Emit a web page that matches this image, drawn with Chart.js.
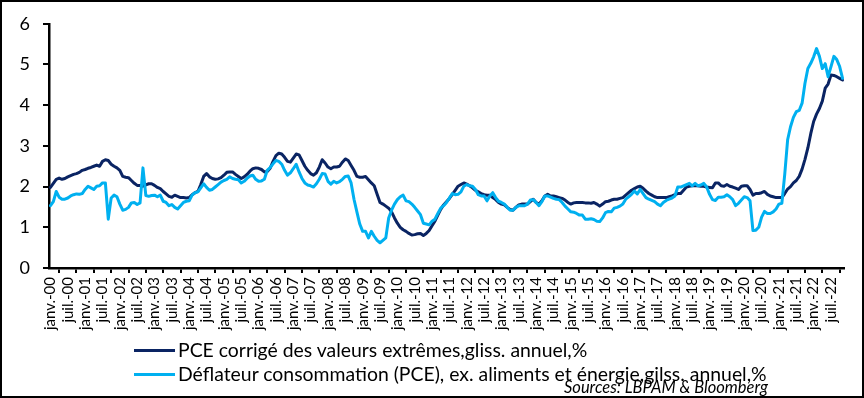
<!DOCTYPE html>
<html><head><meta charset="utf-8">
<script src="https://cdn.jsdelivr.net/npm/chart.js@4/dist/chart.umd.min.js"></script>
<style>
html,body{margin:0;padding:0;background:#fff;}
#wrap{position:relative;width:864px;height:398px;overflow:hidden;font-family:Lato,"Open Sans",sans-serif;background:#fff;}
#c{position:absolute;left:0;top:0;}
#frame{position:absolute;left:0;top:0;width:864px;height:398px;box-sizing:border-box;border:2px solid #000;pointer-events:none;}
.leg{position:absolute;left:134px;height:22px;font-size:19.4px;line-height:22px;color:#000;white-space:nowrap;display:flex;align-items:center;}
.leg .ln{display:inline-block;width:41px;height:3px;margin-right:3px;}
#src{position:absolute;right:96px;top:377px;font-size:16.5px;font-style:italic;color:#000;white-space:nowrap;}
</style></head>
<body>
<div id="wrap">
<canvas id="c" width="864" height="398"></canvas>
<div class="leg" id="leg1" style="top:339px"><span class="ln" style="background:#0a2463"></span><span>PCE corrigé des valeurs extrêmes,gliss. annuel,%</span></div>
<div class="leg" id="leg2" style="top:363px"><span class="ln" style="background:#00b0f0"></span><span>Déflateur consommation (PCE), ex. aliments et énergie,gilss. annuel,%</span></div>
<div id="src">Sources: LBPAM &amp; Bloomberg</div>
<div id="frame"></div>
</div>
<script>
// Monthly data, Jan 2000 .. Nov 2022
const startYear = 2000;
const monthAbbr = ['janv.','févr.','mars','avr.','mai','juin','juil.','août','sept.','oct.','nov.','déc.'];

const trimmedMeanPCE = [
 1.98,2.08,2.18,2.21,2.18,2.20,2.24,2.27,2.30,2.32,2.35,2.40,
 2.42,2.45,2.47,2.50,2.53,2.50,2.62,2.66,2.64,2.55,2.50,2.46,
 2.40,2.25,2.23,2.22,2.15,2.08,2.03,2.03,2.01,2.04,2.07,2.07,
 2.03,1.98,1.95,1.88,1.82,1.76,1.74,1.79,1.76,1.73,1.73,1.72,
 1.73,1.80,1.85,1.88,2.05,2.25,2.32,2.24,2.20,2.18,2.19,2.22,
 2.28,2.35,2.36,2.36,2.30,2.25,2.20,2.24,2.30,2.38,2.44,2.46,
 2.45,2.42,2.36,2.37,2.45,2.62,2.76,2.82,2.80,2.72,2.62,2.60,
 2.70,2.80,2.78,2.64,2.50,2.40,2.32,2.28,2.34,2.48,2.66,2.58,
 2.48,2.44,2.48,2.48,2.50,2.60,2.68,2.64,2.52,2.40,2.25,2.23,
 2.23,2.25,2.17,2.09,2.02,1.81,1.61,1.57,1.52,1.47,1.38,1.23,
 1.10,1.00,0.94,0.90,0.85,0.81,0.82,0.84,0.85,0.80,0.85,0.92,
 1.04,1.15,1.30,1.44,1.55,1.63,1.71,1.81,1.91,2.01,2.05,2.09,
 2.06,2.02,1.97,1.91,1.87,1.83,1.80,1.79,1.79,1.73,1.68,1.61,
 1.57,1.55,1.49,1.44,1.42,1.49,1.55,1.57,1.57,1.57,1.63,1.69,
 1.61,1.57,1.65,1.77,1.81,1.77,1.77,1.75,1.73,1.71,1.67,1.61,
 1.57,1.60,1.61,1.61,1.61,1.60,1.60,1.59,1.61,1.57,1.52,1.57,
 1.63,1.64,1.67,1.69,1.69,1.71,1.73,1.79,1.85,1.91,1.95,1.99,
 2.01,1.96,1.89,1.83,1.79,1.75,1.73,1.73,1.73,1.73,1.75,1.77,
 1.80,1.83,1.83,1.91,1.99,2.01,2.02,2.02,2.02,2.01,2.01,1.99,
 1.98,1.97,2.09,2.09,2.02,2.01,2.05,2.01,1.99,1.96,1.93,2.01,
 2.02,2.02,1.93,1.79,1.83,1.83,1.85,1.88,1.81,1.77,1.75,1.73,
 1.73,1.73,1.83,1.94,2.00,2.09,2.15,2.25,2.43,2.67,2.95,3.30,
 3.60,3.78,3.92,4.10,4.42,4.52,4.74,4.73,4.70,4.66,4.62
];

const corePCE = [
 1.53,1.63,1.88,1.74,1.69,1.69,1.72,1.77,1.80,1.82,1.81,1.83,
 1.93,2.01,1.97,1.93,2.01,2.02,2.09,2.09,1.20,1.72,1.79,1.75,
 1.57,1.42,1.44,1.49,1.60,1.61,1.56,1.60,2.46,1.78,1.76,1.78,
 1.79,1.75,1.79,1.64,1.61,1.53,1.56,1.49,1.45,1.53,1.61,1.64,
 1.65,1.79,1.85,1.87,1.97,2.07,1.98,1.91,1.93,1.99,2.05,2.11,
 2.15,2.18,2.24,2.20,2.18,2.17,2.09,2.13,2.20,2.26,2.28,2.18,
 2.13,2.14,2.18,2.40,2.47,2.56,2.64,2.62,2.55,2.40,2.28,2.34,
 2.44,2.55,2.36,2.20,2.09,2.04,2.02,1.99,2.07,2.18,2.32,2.31,
 2.13,2.06,2.13,2.09,2.12,2.18,2.25,2.26,2.09,1.69,1.38,1.08,
 0.90,0.90,0.74,0.90,0.78,0.68,0.62,0.68,0.74,1.23,1.42,1.57,
 1.68,1.75,1.79,1.65,1.63,1.57,1.49,1.40,1.31,1.10,1.08,1.06,
 1.15,1.20,1.34,1.47,1.53,1.61,1.72,1.83,1.80,1.81,1.87,2.01,
 2.05,2.02,2.01,1.93,1.80,1.77,1.77,1.65,1.77,1.85,1.73,1.64,
 1.61,1.57,1.49,1.42,1.42,1.49,1.53,1.53,1.53,1.57,1.67,1.68,
 1.61,1.53,1.63,1.77,1.77,1.74,1.71,1.69,1.68,1.61,1.52,1.45,
 1.38,1.37,1.34,1.30,1.30,1.20,1.20,1.21,1.19,1.15,1.14,1.23,
 1.36,1.39,1.38,1.47,1.49,1.52,1.57,1.69,1.75,1.81,1.89,1.82,
 1.93,1.83,1.73,1.69,1.66,1.63,1.57,1.53,1.61,1.66,1.69,1.72,
 1.77,1.99,1.99,2.02,2.05,2.08,2.02,2.08,2.02,2.04,2.08,1.99,
 1.81,1.68,1.66,1.74,1.74,1.75,1.80,1.75,1.68,1.53,1.59,1.67,
 1.75,1.73,1.65,0.92,0.93,1.00,1.25,1.39,1.34,1.34,1.38,1.45,
 1.57,1.59,2.30,3.15,3.47,3.70,3.84,3.87,4.05,4.54,4.90,5.03,
 5.19,5.39,5.20,4.90,5.02,4.70,4.95,5.20,5.12,4.95,4.66
];

const categories = corePCE.map((_, i) =>
  monthAbbr[i % 12] + '-' + String((startYear + Math.floor(i / 12)) % 100).padStart(2, '0'));
const tickEvery = 6;
const yTicks = [0, 1, 2, 3, 4, 5, 6];

new Chart(document.getElementById('c'), {
  type: 'line',
  data: {
    labels: categories,
    datasets: [
      { label: 'PCE corrigé des valeurs extrêmes,gliss. annuel,%', data: trimmedMeanPCE,
        borderColor: '#0a2463', backgroundColor: '#0a2463', order: 1 },
      { label: 'Déflateur consommation (PCE), ex. aliments et énergie,gilss. annuel,%', data: corePCE,
        borderColor: '#00b0f0', backgroundColor: '#00b0f0', order: 0 }
    ]
  },
  options: {
    responsive: false,
    animation: false,
    layout: { padding: { left: 0, right: 20, top: 16, bottom: 60 } },
    plugins: { legend: { display: false }, tooltip: { enabled: false } },
    elements: { point: { radius: 0 }, line: { borderWidth: 3, tension: 0, borderJoinStyle: 'round', borderCapStyle: 'round' } },
    scales: {
      x: {
        type: 'category',
        offset: true,
        grid: { offset: true, drawOnChartArea: false, drawTicks: true, tickLength: 5, color: '#000', lineWidth: 2 },
        border: { color: '#000', width: 2.5 },
        ticks: {
          autoSkip: false, maxRotation: 90, minRotation: 90, padding: 4, color: '#000',
          font: { family: 'Lato', size: 15 },
          callback: function (v, i) { return (i % tickEvery === 0) ? this.getLabelForValue(v) : null; }
        },
        afterFit: function (s) { s.height = 70; }
      },
      y: {
        min: yTicks[0], max: yTicks[yTicks.length - 1],
        afterBuildTicks: function (s) { s.ticks = yTicks.map(v => ({ value: v })); },
        grid: { drawOnChartArea: false, drawTicks: true, tickLength: 6, color: '#000', lineWidth: 2 },
        border: { color: '#000', width: 2.5 },
        ticks: { padding: 13, color: '#000', font: { family: 'Lato', size: 18 } },
        afterFit: function (s) { s.width = 49; }
      }
    }
  }
});
</script>
</body></html>
